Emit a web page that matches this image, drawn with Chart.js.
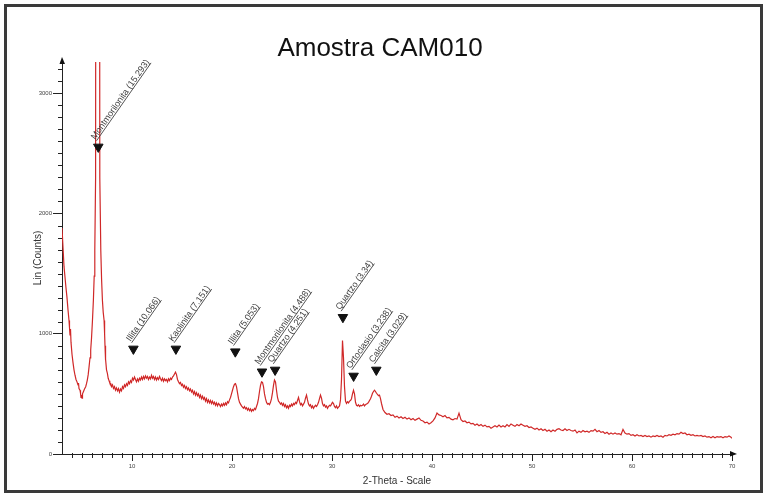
<!DOCTYPE html>
<html>
<head>
<meta charset="utf-8">
<title>Amostra CAM010</title>
<script src="https://cdn.jsdelivr.net/npm/chart.js@4.4.1/dist/chart.umd.min.js"></script>
<style>
  html, body { margin: 0; padding: 0; background: #fff; }
  #chart { display: block; }
</style>
</head>
<body>
<canvas id="chart" width="767" height="496"></canvas>
<script>
const twoTheta = [
  3.0, 3.1, 3.2, 3.3, 3.4, 3.5, 3.6, 3.7, 3.75, 3.8,
  3.85, 3.9, 4.0, 4.1, 4.2, 4.3, 4.4, 4.5, 4.6, 4.65,
  4.7, 4.8, 4.85, 4.9, 4.95, 5.0, 5.05, 5.13, 5.25, 5.37,
  5.45, 5.53, 5.62, 5.7, 5.8, 5.87, 5.95, 6.04, 6.14, 6.22,
  6.28, 6.36, 6.56, 6.78, 6.88, 6.96, 7.04, 7.12, 7.21, 7.26,
  7.3, 7.33, 7.38, 7.45, 7.54, 7.62, 7.7, 7.78, 7.88, 7.95,
  8.05, 8.15, 8.25, 8.35, 8.45, 8.55, 8.65, 8.75, 8.85, 8.95,
  9.05, 9.15, 9.25, 9.35, 9.45, 9.55, 9.65, 9.75, 9.85, 9.95,
  10.05, 10.15, 10.25, 10.35, 10.45, 10.55, 10.65, 10.75, 10.85, 10.95,
  11.05, 11.15, 11.25, 11.35, 11.45, 11.55, 11.65, 11.75, 11.85, 11.95,
  12.05, 12.15, 12.25, 12.35, 12.45, 12.55, 12.65, 12.75, 12.85, 12.95,
  13.05, 13.15, 13.25, 13.35, 13.45, 13.55, 13.65, 13.75, 13.85, 13.95,
  14.05, 14.15, 14.25, 14.35, 14.45, 14.55, 14.65, 14.75, 14.85, 14.95,
  15.05, 15.15, 15.25, 15.35, 15.45, 15.55, 15.65, 15.75, 15.85, 15.95,
  16.05, 16.15, 16.25, 16.35, 16.45, 16.55, 16.65, 16.75, 16.85, 16.95,
  17.05, 17.15, 17.25, 17.35, 17.45, 17.55, 17.65, 17.75, 17.85, 17.95,
  18.05, 18.15, 18.25, 18.35, 18.45, 18.55, 18.65, 18.75, 18.85, 18.95,
  19.05, 19.15, 19.25, 19.35, 19.45, 19.55, 19.65, 19.75, 19.85, 19.95,
  20.05, 20.15, 20.25, 20.35, 20.45, 20.55, 20.65, 20.75, 20.85, 20.95,
  21.05, 21.15, 21.25, 21.35, 21.45, 21.55, 21.65, 21.75, 21.85, 21.95,
  22.05, 22.15, 22.25, 22.35, 22.45, 22.55, 22.65, 22.75, 22.85, 22.95,
  23.05, 23.15, 23.25, 23.35, 23.45, 23.55, 23.65, 23.75, 23.85, 23.95,
  24.05, 24.15, 24.25, 24.35, 24.45, 24.55, 24.65, 24.75, 24.85, 24.95,
  25.05, 25.15, 25.25, 25.35, 25.45, 25.55, 25.65, 25.75, 25.85, 25.95,
  26.05, 26.15, 26.25, 26.35, 26.45, 26.55, 26.65, 26.75, 26.85, 26.95,
  27.05, 27.15, 27.25, 27.35, 27.45, 27.55, 27.65, 27.75, 27.85, 27.95,
  28.05, 28.15, 28.25, 28.35, 28.45, 28.55, 28.65, 28.75, 28.85, 28.95,
  29.05, 29.15, 29.25, 29.35, 29.45, 29.55, 29.65, 29.75, 29.85, 29.95,
  30.05, 30.15, 30.25, 30.35, 30.45, 30.55, 30.65, 30.75, 30.85, 30.95,
  31.05, 31.15, 31.25, 31.35, 31.45, 31.55, 31.65, 31.75, 31.85, 31.95,
  32.05, 32.15, 32.25, 32.35, 32.45, 32.55, 32.65, 32.75, 32.85, 32.95,
  33.05, 33.15, 33.25, 33.35, 33.45, 33.55, 33.65, 33.75, 33.85, 33.95,
  34.05, 34.15, 34.25, 34.35, 34.45, 34.55, 34.65, 34.75, 34.85, 34.95,
  35.1, 35.3, 35.5, 35.7, 35.9,
  36.1, 36.3, 36.5, 36.7, 36.9,
  37.1, 37.3, 37.5, 37.7, 37.9,
  38.1, 38.3, 38.5, 38.7, 38.9,
  39.1, 39.3, 39.5, 39.7, 39.9,
  40.1, 40.3, 40.5, 40.7, 40.9,
  41.1, 41.3, 41.5, 41.7, 41.9,
  42.1, 42.3, 42.5, 42.7, 42.9,
  43.1, 43.3, 43.5, 43.7, 43.9,
  44.1, 44.3, 44.5, 44.7, 44.9,
  45.1, 45.3, 45.5, 45.7, 45.9,
  46.1, 46.3, 46.5, 46.7, 46.9,
  47.1, 47.3, 47.5, 47.7, 47.9,
  48.1, 48.3, 48.5, 48.7, 48.9,
  49.1, 49.3, 49.5, 49.7, 49.9,
  50.1, 50.3, 50.5, 50.7, 50.9,
  51.1, 51.3, 51.5, 51.7, 51.9,
  52.1, 52.3, 52.5, 52.7, 52.9,
  53.1, 53.3, 53.5, 53.7, 53.9,
  54.1, 54.3, 54.5, 54.7, 54.9,
  55.1, 55.3, 55.5, 55.7, 55.9,
  56.1, 56.3, 56.5, 56.7, 56.9,
  57.1, 57.3, 57.5, 57.7, 57.9,
  58.1, 58.3, 58.5, 58.7, 58.9,
  59.1, 59.3, 59.5, 59.7, 59.9,
  60.1, 60.3, 60.5, 60.7, 60.9,
  61.1, 61.3, 61.5, 61.7, 61.9,
  62.1, 62.3, 62.5, 62.7, 62.9,
  63.1, 63.3, 63.5, 63.7, 63.9,
  64.1, 64.3, 64.5, 64.7, 64.9,
  65.1, 65.3, 65.5, 65.7, 65.9,
  66.1, 66.3, 66.5, 66.7, 66.9,
  67.1, 67.3, 67.5, 67.7, 67.9,
  68.1, 68.3, 68.5, 68.7, 68.9,
  69.1, 69.3, 69.5, 69.7, 69.9,
  70.0
];

const lin = [
  1880, 1720, 1560, 1470, 1380, 1300, 1200, 1110, 1050, 990,
  1040, 930, 830, 760, 700, 655, 620, 600, 575, 590,
  545, 530, 505, 470, 490, 465, 500, 516, 540, 560,
  585, 615, 660, 720, 800, 865, 960, 1100, 1280, 1480,
  1690, 2300, 30000, 2300, 1690, 1450, 1280, 1180, 1110, 1000,
  900, 780, 790, 700, 670, 630, 610, 590, 585, 560,
  575, 545, 560, 530, 550, 525, 545, 515, 540, 525,
  560, 545, 575, 560, 585, 570, 600, 585, 610, 595,
  630, 615, 640, 620, 600, 625, 605, 630, 615, 640,
  620, 645, 625, 650, 630, 645, 620, 640, 625, 655,
  630, 645, 620, 640, 615, 635, 620, 645, 625, 610,
  630, 605, 625, 610, 620, 600, 625, 610, 630, 620,
  640, 650, 665, 680, 660, 620, 600, 585, 595, 570,
  580, 555, 570, 545, 560, 535, 550, 525, 540, 515,
  530, 500, 520, 490, 510, 485, 500, 470, 490, 460,
  480, 455, 470, 440, 460, 430, 450, 425, 445, 420,
  440, 415, 430, 405, 425, 400, 420, 410, 395, 415,
  400, 420, 405, 425, 410, 435, 425, 450, 470, 500,
  530, 560, 580, 585, 560, 510, 460, 430, 415, 400,
  390, 380, 395, 375, 385, 365, 380, 360, 375, 355,
  370, 360, 380, 370, 395, 420, 460, 520, 570, 600,
  595, 560, 500, 460, 430, 415, 420, 410, 430, 460,
  510, 570, 615, 600, 530, 470, 440, 430, 415, 425,
  405, 420, 395, 410, 385, 400, 380, 405, 395, 415,
  400, 420, 410, 430, 420, 445, 470, 435, 410, 420,
  400, 415, 430, 465, 490, 450, 415, 400, 410, 385,
  400, 380, 395, 405, 395, 410, 430, 460, 490, 465,
  420, 400, 410, 390, 400, 380, 395, 405, 400, 415,
  430, 420, 395, 385, 400, 380, 390, 400, 450, 620,
  944, 800, 560, 440, 420, 435, 425, 440, 445, 460,
  500, 530, 500, 430, 405, 400, 410, 395, 405, 400,
  405, 415, 400, 410, 415, 420, 430, 445, 460, 480,
  505, 520, 530, 520, 505, 495, 485, 490, 460, 420,
  370, 345, 330, 335, 320,
  325, 305, 315, 300, 310,
  295, 305, 290, 300, 285,
  295, 280, 290, 300, 280,
  275, 260, 265, 250, 260,
  275, 300, 340, 325, 320,
  310, 320, 300, 305, 290,
  285, 295, 290, 340, 285,
  270, 275, 260, 265, 250,
  255, 240, 250, 235, 245,
  230, 240, 225, 230, 215,
  225, 235, 225, 240, 225,
  235, 225, 245, 230, 250,
  240, 230, 245, 235, 250,
  240, 230, 235, 220, 225,
  215, 205, 215, 200, 210,
  195, 205, 190, 200, 185,
  200, 190, 205, 210, 200,
  195, 210, 195, 205, 195,
  190, 200, 175, 190, 180,
  195, 185, 190, 180, 195,
  190, 205, 185, 195, 180,
  185, 170, 180, 165, 175,
  165, 175, 165, 170, 160,
  205, 175, 165, 170, 155,
  160, 150, 160, 150, 155,
  145, 155, 145, 150, 140,
  150, 145, 155, 145, 150,
  140, 155, 150, 160, 155,
  165, 160, 170, 165, 180,
  170, 175, 160, 165, 155,
  160, 150, 155, 150, 155,
  145, 150, 140, 145, 135,
  145, 135, 145, 140, 145,
  135, 145, 140, 150, 140,
  130
];

const xTicks = [10, 20, 30, 40, 50, 60, 70];
const yTicks = [0, 1000, 2000, 3000];

const peakNames = [
  'Montmorilonita (15.293)', 'Illita (10.066)', 'Kaolinita (7.151)',
  'Illita (5.053)', 'Montmorilonita (4.488)', 'Quartzo (4.251)',
  'Quartzo (3.34)', 'Ortoclasio (3.238)', 'Calcita (3.029)'
];
const peakTheta = [6.63, 10.14, 14.39, 20.33, 23.0, 24.31, 31.09, 32.16, 34.43];
const peakMark = [2554, 874, 874, 851, 684, 699, 1137, 649, 699];

const fontFamily = '"Liberation Sans", Arial, Helvetica, sans-serif';

const xrdDecor = {
  id: 'xrdDecor',
  beforeDraw(chart) {
    const ctx = chart.ctx;
    ctx.save();
    ctx.fillStyle = '#fff';
    ctx.fillRect(0, 0, chart.width, chart.height);
    ctx.strokeStyle = '#3a3a3a';
    ctx.lineWidth = 3;
    ctx.strokeRect(5.5, 5.5, 756, 486);
    ctx.restore();
  },
  afterDatasetsDraw(chart) {
    const { ctx, scales: { x, y } } = chart;
    ctx.save();
    ctx.font = '9px ' + fontFamily;
    ctx.fillStyle = '#3c3c3c';
    ctx.strokeStyle = '#3c3c3c';
    ctx.lineWidth = 0.8;
    peakNames.forEach((name, i) => {
      const px = x.getPixelForValue(peakTheta[i]);
      const py = y.getPixelForValue(peakMark[i]);
      ctx.save();
      ctx.translate(px - 3, py - 7);
      ctx.rotate(-55 * Math.PI / 180);
      ctx.fillText(name, 0, 0);
      const w = ctx.measureText(name).width;
      ctx.beginPath();
      ctx.moveTo(0, 1.5);
      ctx.lineTo(w, 1.5);
      ctx.stroke();
      ctx.restore();
    });
    ctx.restore();
  },
  afterDraw(chart) {
    const { ctx, chartArea: { left, right, top, bottom }, scales: { x, y } } = chart;
    ctx.save();
    ctx.strokeStyle = '#222';
    ctx.lineWidth = 1;
    ctx.beginPath();
    // minor ticks
    for (let v = 4; v < 70; v++) {
      if (v % 10 === 0) continue;
      const px = Math.round(x.getPixelForValue(v)) + 0.5;
      ctx.moveTo(px, bottom - 1);
      ctx.lineTo(px, bottom + 4);
    }
    for (let v = 100; v <= 3200; v += 100) {
      if (v % 1000 === 0) continue;
      const py = Math.round(y.getPixelForValue(v)) + 0.5;
      ctx.moveTo(left - 4, py);
      ctx.lineTo(left, py);
    }
    ctx.stroke();

    // axis arrows
    ctx.fillStyle = '#111';
    ctx.beginPath();
    ctx.moveTo(left, top - 5);
    ctx.lineTo(left - 2.5, top + 2);
    ctx.lineTo(left + 3, top + 2);
    ctx.closePath();
    ctx.fill();
    ctx.beginPath();
    ctx.moveTo(right + 5, bottom);
    ctx.lineTo(right - 2, bottom - 3);
    ctx.lineTo(right - 2, bottom + 2.5);
    ctx.closePath();
    ctx.fill();
    ctx.restore();
  }
};

const points = twoTheta.map((t, i) => ({ x: t, y: lin[i] }));
const marks = peakTheta.map((t, i) => ({ x: t, y: peakMark[i] }));

new Chart(document.getElementById('chart'), {
  type: 'line',
  data: {
    datasets: [
      {
        data: marks,
        type: 'scatter',
        pointStyle: 'triangle',
        rotation: 180,
        pointRadius: 5.5,
        backgroundColor: '#111',
        borderColor: '#111',
        borderWidth: 1,
        order: 0
      },
      {
        data: points,
        borderColor: '#d02828',
        borderWidth: 1.2,
        pointRadius: 0,
        tension: 0,
        fill: false,
        order: 1
      }
    ]
  },
  options: {
    responsive: false,
    animation: false,
    events: [],
    layout: { padding: { left: 28, right: 35, top: 0, bottom: 0 } },
    plugins: {
      legend: { display: false },
      tooltip: { enabled: false },
      title: {
        display: true,
        text: 'Amostra CAM010',
        color: '#111',
        font: { family: fontFamily, size: 26, weight: 'normal', lineHeight: 1 },
        padding: { top: 36, bottom: 0 }
      }
    },
    scales: {
      x: {
        type: 'linear',
        min: 3,
        max: 70,
        afterBuildTicks: (scale) => { scale.ticks = xTicks.map(v => ({ value: v })); },
        afterFit: (scale) => { scale.height = 42; },
        grid: { display: true, drawOnChartArea: false, drawTicks: true, tickLength: 7, tickColor: '#222' },
        border: { display: true, color: '#222', width: 1 },
        ticks: {
          padding: 2,
          color: '#444',
          font: { family: fontFamily, size: 6 },
          maxRotation: 0,
          callback: (v) => String(v)
        },
        title: {
          display: true,
          text: '2-Theta - Scale',
          color: '#333',
          font: { family: fontFamily, size: 10 },
          padding: { top: 0, bottom: 9 }
        }
      },
      y: {
        type: 'linear',
        min: 0,
        max: 3260,
        afterBuildTicks: (scale) => { scale.ticks = yTicks.map(v => ({ value: v })); },
        afterFit: (scale) => { scale.width = 34; },
        grid: { display: true, drawOnChartArea: false, drawTicks: true, tickLength: 9, tickColor: '#222' },
        border: { display: true, color: '#222', width: 1 },
        ticks: {
          padding: 1,
          color: '#444',
          font: { family: fontFamily, size: 6 },
          callback: (v) => String(v)
        },
        title: {
          display: true,
          text: 'Lin (Counts)',
          color: '#333',
          font: { family: fontFamily, size: 10 },
          padding: { top: 4, bottom: 0 }
        }
      }
    }
  },
  plugins: [xrdDecor]
});
</script>
</body>
</html>
